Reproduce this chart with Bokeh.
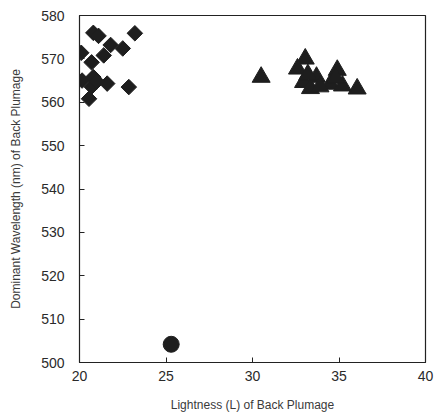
from bokeh.plotting import figure
from bokeh.models import Range1d, FixedTicker
from bokeh.embed import file_html
from bokeh.resources import INLINE

# Diamonds
dia_x = [20.8, 21.1, 21.8, 22.5, 23.2, 20.1, 20.7, 21.4, 20.15, 20.8, 20.7, 21.6, 22.85, 20.55, 21.0]
dia_y = [576.0, 575.3, 573.2, 572.4, 575.9, 571.4, 569.2, 570.8, 565.0, 565.8, 563.6, 564.3, 563.5, 560.8, 564.8]

# Triangles
tri_x = [30.5, 33.05, 32.6, 34.9, 33.7, 32.95, 33.35, 34.5, 36.05, 35.2, 33.9, 34.8, 33.2]
tri_y = [565.8, 570.0, 567.7, 567.4, 565.8, 564.6, 563.2, 564.2, 563.1, 563.8, 563.6, 565.6, 566.4]

# Circle
cir_x = [25.3]
cir_y = [504.2]

x_ticks = [20, 25, 30, 35, 40]
y_ticks = [500, 510, 520, 530, 540, 550, 560, 570, 580]

p = figure(frame_width=346, frame_height=347, output_backend="svg", toolbar_location=None,
           x_range=Range1d(20, 40), y_range=Range1d(500, 580),
           min_border_left=79, min_border_right=10, min_border_top=15, min_border_bottom=50)

p.scatter(dia_x, dia_y, marker="square", angle=0.785398, size=11, color="#1e1e1e")
p.scatter(tri_x, tri_y, marker="triangle", size=18, color="#1e1e1e")
p.scatter(cir_x, cir_y, marker="circle", size=16, color="#1e1e1e")

p.xgrid.visible = False
p.ygrid.visible = False
p.outline_line_color = "#222222"
p.outline_line_width = 1.2

p.xaxis.ticker = FixedTicker(ticks=x_ticks)
p.yaxis.ticker = FixedTicker(ticks=y_ticks)
for ax in (p.xaxis[0], p.yaxis[0]):
    ax.major_tick_in = 5
    ax.major_tick_out = 0
    ax.minor_tick_line_color = None
    ax.axis_line_color = "#222222"
    ax.major_tick_line_color = "#222222"
    ax.major_label_text_font = "Liberation Sans"
    ax.major_label_text_font_size = "14px"
    ax.major_label_text_color = "#2a2a2a"
    ax.axis_label_text_font = "Liberation Sans"
    ax.axis_label_text_font_style = "normal"
    ax.axis_label_text_font_size = "12px"
    ax.axis_label_text_color = "#3a3a3a"

p.xaxis.axis_label = "Lightness (L) of Back Plumage"
p.yaxis.axis_label = "Dominant Wavelength (nm) of Back Plumage"
p.xaxis.major_label_standoff = 8
p.yaxis.major_label_standoff = 15
p.xaxis.axis_label_standoff = 14
p.yaxis.axis_label_standoff = 15

open("out.html", "w").write(file_html(p, INLINE))
